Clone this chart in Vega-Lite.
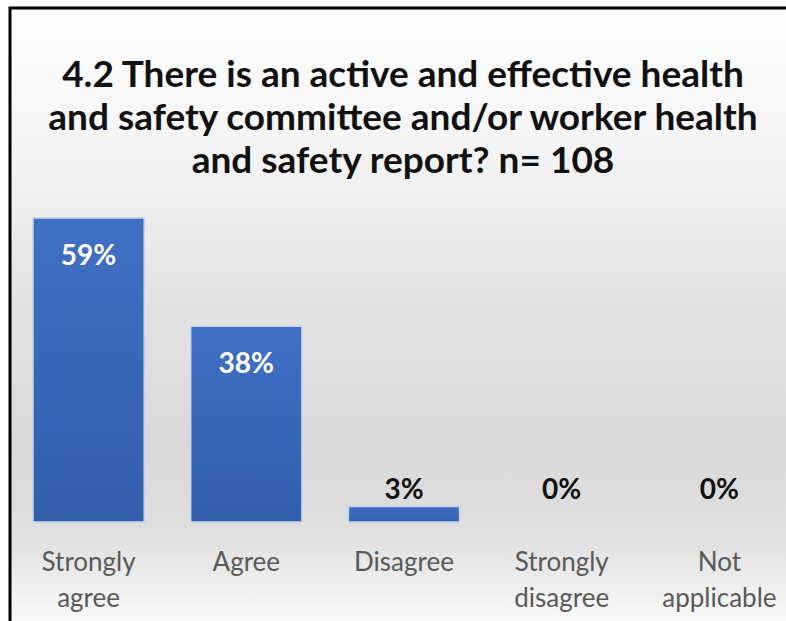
{
  "$schema": "https://vega.github.io/schema/vega-lite/v6.json",
  "autosize": "none",
  "padding": {"left": 10, "top": 8, "right": 0, "bottom": 0},
  "width": 830,
  "height": 620,
  "background": "#ffffff",
  "config": {"view": {"stroke": null}, "font": "Lato"},
  "title": {
    "text": ["4.2 There is an active and effective health", "and safety committee and/or worker health", "and safety report? n= 108"],
    "font": "Lato",
    "fontSize": 37,
    "fontWeight": "bold",
    "color": "#111111",
    "lineHeight": 43,
    "anchor": "middle",
    "dx": -22,
    "dy": 178
  },
  "datasets": {
    "bg": [{"k": 1}],
    "resp": [
      {"response": "Strongly agree", "pct": 0.59},
      {"response": "Agree", "pct": 0.38},
      {"response": "Disagree", "pct": 0.03},
      {"response": "Strongly disagree", "pct": 0},
      {"response": "Not applicable", "pct": 0}
    ]
  },
  "layer": [
    {
      "data": {"name": "bg"},
      "mark": {
        "type": "rect",
        "stroke": "#000000",
        "strokeWidth": 3,
        "fill": {
          "gradient": "linear", "x1": 0, "y1": 0, "x2": 0, "y2": 1,
          "stops": [
            {"offset": 0, "color": "#ffffff"},
            {"offset": 0.23, "color": "#f4f4f4"},
            {"offset": 0.47, "color": "#e3e3e3"},
            {"offset": 0.7, "color": "#d9d9d9"},
            {"offset": 0.84, "color": "#dedede"},
            {"offset": 0.94, "color": "#f0f0f0"},
            {"offset": 1, "color": "#fbfbfb"}
          ]
        }
      },
      "encoding": {}
    },
    {
      "data": {"name": "resp"},
      "layer": [
        {
          "mark": {
            "type": "bar",
            "stroke": "#c6d4ec",
            "strokeWidth": 1.5,
            "fill": {
              "gradient": "linear", "x1": 0, "y1": 0, "x2": 0, "y2": 1,
              "stops": [
                {"offset": 0, "color": "#4070c4"},
                {"offset": 1, "color": "#325eab"}
              ]
            }
          },
          "encoding": {
            "x": {
              "field": "response", "type": "nominal", "sort": null,
              "scale": {"range": [23, 765], "paddingInner": 0.295, "paddingOuter": 0},
              "axis": {
                "title": null, "orient": "bottom", "offset": -106, "zindex": 2,
                "domain": false, "ticks": false, "labelAngle": 0,
                "labelFont": "Lato", "labelFontSize": 26, "labelColor": "#595959",
                "labelPadding": 27, "labelLineHeight": 36,
                "labelExpr": "split(datum.label, ' ')"
              }
            },
            "y": {
              "field": "pct", "type": "quantitative",
              "scale": {"domain": [0, 0.59], "range": [514, 210], "nice": false, "zero": true},
              "axis": null
            },
            "strokeOpacity": {"condition": {"test": "datum.pct > 0", "value": 1}, "value": 0}
          }
        },
        {
          "transform": [{"filter": "datum.pct >= 0.1"}],
          "mark": {"type": "text", "font": "Lato", "fontSize": 28, "fontWeight": "bold", "color": "#ffffff", "baseline": "middle", "dy": 39},
          "encoding": {
            "x": {"field": "response", "type": "nominal", "sort": null},
            "y": {"field": "pct", "type": "quantitative"},
            "text": {"field": "pct", "type": "quantitative", "format": ".0%"}
          }
        },
        {
          "transform": [{"filter": "datum.pct < 0.1"}],
          "mark": {"type": "text", "font": "Lato", "fontSize": 28, "fontWeight": "bold", "color": "#111111", "baseline": "middle", "dy": -16},
          "encoding": {
            "x": {"field": "response", "type": "nominal", "sort": null},
            "y": {"datum": 0.03, "type": "quantitative"},
            "text": {"field": "pct", "type": "quantitative", "format": ".0%"}
          }
        }
      ]
    }
  ]
}
